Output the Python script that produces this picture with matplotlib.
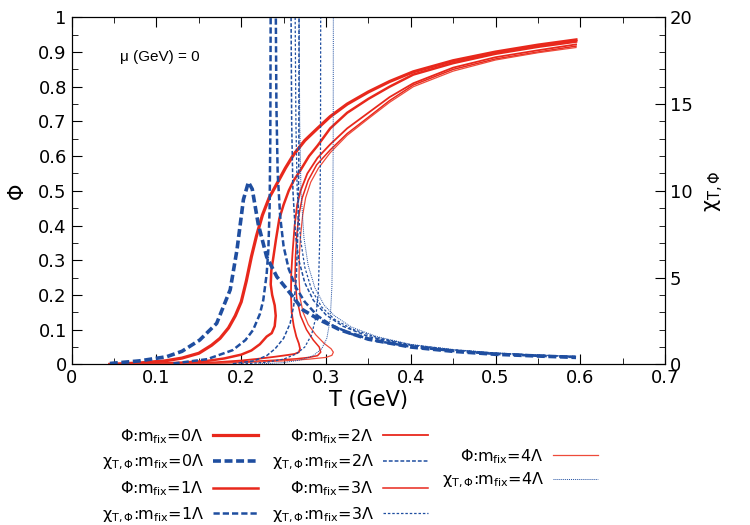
import numpy as np
import matplotlib
matplotlib.use('Agg')
import matplotlib.pyplot as plt
from matplotlib.ticker import MultipleLocator, FuncFormatter

# order parameter Phi(T) for m_fix = 0..4 Lambda
T_phi0 = [0.045, 0.08, 0.11, 0.13, 0.15, 0.165, 0.175, 0.185, 0.193, 0.2, 0.206, 0.212, 0.218, 0.225, 0.233, 0.242, 0.252, 0.262, 0.275, 0.29, 0.305, 0.325, 0.35, 0.375, 0.403, 0.45, 0.5, 0.55, 0.595]
phi0 = [0.0, 0.004, 0.01, 0.018, 0.032, 0.055, 0.075, 0.105, 0.14, 0.18, 0.24, 0.31, 0.37, 0.43, 0.48, 0.52, 0.565, 0.605, 0.645, 0.68, 0.714, 0.75, 0.785, 0.815, 0.843, 0.875, 0.9, 0.92, 0.935]

T_phi1 = [0.045, 0.1, 0.13, 0.16, 0.18, 0.2, 0.212, 0.222, 0.23, 0.236, 0.2395, 0.2407, 0.2395, 0.2365, 0.2348, 0.2355, 0.238, 0.241, 0.245, 0.25, 0.256, 0.262, 0.27, 0.28, 0.29, 0.305, 0.325, 0.35, 0.375, 0.403, 0.45, 0.5, 0.55, 0.595]
phi1 = [0.0, 0.002, 0.005, 0.01, 0.017, 0.028, 0.04, 0.058, 0.08, 0.09, 0.11, 0.14, 0.17, 0.2, 0.23, 0.27, 0.31, 0.36, 0.42, 0.46, 0.5, 0.53, 0.56, 0.6, 0.63, 0.68, 0.725, 0.765, 0.8, 0.835, 0.868, 0.895, 0.915, 0.93]

T_phi2 = [0.045, 0.12, 0.17, 0.2, 0.22, 0.24, 0.255, 0.263, 0.268, 0.2694, 0.268, 0.265, 0.262, 0.2595, 0.2587, 0.259, 0.2605, 0.263, 0.266, 0.27, 0.278, 0.29, 0.305, 0.325, 0.35, 0.375, 0.403, 0.45, 0.5, 0.55, 0.595]
phi2 = [0.0, 0.002, 0.006, 0.011, 0.016, 0.022, 0.027, 0.03, 0.035, 0.045, 0.06, 0.08, 0.11, 0.15, 0.2, 0.26, 0.32, 0.4, 0.46, 0.5, 0.55, 0.595, 0.634, 0.68, 0.725, 0.77, 0.81, 0.855, 0.885, 0.905, 0.922]

T_phi3 = [0.045, 0.15, 0.2, 0.24, 0.265, 0.28, 0.29, 0.2938, 0.292, 0.285, 0.277, 0.27, 0.2655, 0.2635, 0.264, 0.2655, 0.268, 0.272, 0.279, 0.289, 0.305, 0.325, 0.35, 0.375, 0.403, 0.45, 0.5, 0.55, 0.595]
phi3 = [0.0, 0.003, 0.007, 0.012, 0.016, 0.02, 0.025, 0.035, 0.05, 0.07, 0.1, 0.14, 0.19, 0.25, 0.31, 0.37, 0.43, 0.48, 0.53, 0.575, 0.618, 0.665, 0.712, 0.76, 0.805, 0.85, 0.88, 0.9, 0.917]

T_phi4 = [0.045, 0.15, 0.2, 0.25, 0.28, 0.3, 0.307, 0.3087, 0.306, 0.298, 0.288, 0.279, 0.273, 0.2695, 0.2682, 0.2685, 0.27, 0.2725, 0.276, 0.282, 0.291, 0.305, 0.325, 0.35, 0.375, 0.403, 0.45, 0.5, 0.55, 0.595]
phi4 = [0.0, 0.002, 0.005, 0.01, 0.015, 0.02, 0.026, 0.035, 0.045, 0.06, 0.085, 0.115, 0.15, 0.19, 0.25, 0.31, 0.37, 0.43, 0.48, 0.525, 0.565, 0.61, 0.66, 0.708, 0.755, 0.8, 0.845, 0.877, 0.898, 0.913]

# susceptibility chi_T,Phi(T), rising and falling branches
T_chi0 = [0.045, 0.08, 0.112, 0.13, 0.151, 0.171, 0.187, 0.195, 0.2026, 0.2085, 0.213, 0.22, 0.23, 0.242, 0.2577, 0.273, 0.293, 0.317, 0.35, 0.4, 0.45, 0.5, 0.55, 0.595]
chi0 = [0.05, 0.2, 0.44, 0.75, 1.4, 2.36, 4.3, 6.6, 9.5, 10.5, 10.1, 8.1, 6.2, 5.05, 4.1, 3.13, 2.55, 1.98, 1.45, 1.0, 0.75, 0.58, 0.48, 0.4]

T_chi1_up = [0.12, 0.16, 0.19, 0.205, 0.214, 0.222, 0.226, 0.23, 0.232, 0.2335, 0.2343, 0.2348]
chi1_up = [0.05, 0.3, 0.82, 1.4, 1.98, 2.9, 3.7, 5.2, 6.6, 9.0, 13.0, 21.0]
T_chi1_dn = [0.2407, 0.2415, 0.243, 0.246, 0.25, 0.256, 0.265, 0.275, 0.29, 0.305, 0.33, 0.36, 0.4, 0.45, 0.5, 0.55, 0.595]
chi1_dn = [21.0, 15.0, 11.0, 8.5, 6.8, 5.5, 4.4, 3.6, 2.8, 2.3, 1.75, 1.35, 1.02, 0.77, 0.6, 0.49, 0.42]

T_chi2_up = [0.19, 0.215, 0.23, 0.24, 0.25, 0.2577, 0.262, 0.265, 0.267, 0.268, 0.2682]
chi2_up = [0.03, 0.2, 0.5, 0.9, 1.5, 2.36, 3.4, 5.0, 8.0, 12.0, 21.0]
T_chi2_dn = [0.2587, 0.2595, 0.261, 0.264, 0.268, 0.275, 0.285, 0.3, 0.32, 0.35, 0.4, 0.45, 0.5, 0.55, 0.595]
chi2_dn = [21.0, 14.0, 10.0, 7.5, 6.0, 4.7, 3.7, 2.85, 2.2, 1.6, 1.1, 0.82, 0.63, 0.52, 0.44]

T_chi3_up = [0.2, 0.23, 0.25, 0.265, 0.275, 0.283, 0.288, 0.291, 0.2925, 0.2935, 0.2938]
chi3_up = [0.02, 0.12, 0.3, 0.6, 1.0, 1.7, 2.7, 4.2, 7.0, 12.0, 21.0]
T_chi3_dn = [0.2635, 0.2645, 0.266, 0.27, 0.275, 0.283, 0.295, 0.31, 0.33, 0.36, 0.4, 0.45, 0.5, 0.55, 0.595]
chi3_dn = [21.0, 14.0, 10.0, 7.2, 5.6, 4.3, 3.3, 2.6, 2.05, 1.55, 1.13, 0.84, 0.65, 0.53, 0.45]

T_chi4_up = [0.22, 0.25, 0.27, 0.285, 0.295, 0.301, 0.305, 0.307, 0.308, 0.3085, 0.3087]
chi4_up = [0.02, 0.1, 0.25, 0.5, 0.9, 1.5, 2.6, 4.5, 8.0, 13.0, 21.0]
T_chi4_dn = [0.2682, 0.269, 0.2705, 0.274, 0.279, 0.287, 0.298, 0.31, 0.33, 0.36, 0.4, 0.45, 0.5, 0.55, 0.595]
chi4_dn = [21.0, 14.0, 10.0, 7.3, 5.7, 4.4, 3.4, 2.8, 2.15, 1.6, 1.15, 0.86, 0.66, 0.54, 0.46]

red = '#e8281c'
blue = '#1f4ea0'

fig = plt.figure(figsize=(7.5, 5.25), dpi=100)
ax = fig.add_axes([0.0956, 0.306, 0.7911, 0.661])
ax2 = ax.twinx()

p0, = ax.plot(T_phi0, phi0, color=red, lw=2.3)
p1, = ax.plot(T_phi1, phi1, color=red, lw=1.8)
p2, = ax.plot(T_phi2, phi2, color=red, lw=1.3)
p3, = ax.plot(T_phi3, phi3, color=red, lw=1.1)
p4, = ax.plot(T_phi4, phi4, color='#ee4a3a', lw=0.9)

c0, = ax2.plot(T_chi0, chi0, color=blue, lw=2.6, dashes=(2.2, 1.0))
c1, = ax2.plot(T_chi1_up, chi1_up, color=blue, lw=1.8, dashes=(2.5, 1.2))
ax2.plot(T_chi1_dn, chi1_dn, color=blue, lw=1.8, dashes=(2.5, 1.2))
c2, = ax2.plot(T_chi2_up, chi2_up, color=blue, lw=1.1, dashes=(2.5, 1.3))
ax2.plot(T_chi2_dn, chi2_dn, color=blue, lw=1.1, dashes=(2.5, 1.3))
c3, = ax2.plot(T_chi3_up, chi3_up, color=blue, lw=0.9, dashes=(2.0, 1.5))
ax2.plot(T_chi3_dn, chi3_dn, color=blue, lw=0.9, dashes=(2.0, 1.5))
c4, = ax2.plot(T_chi4_up, chi4_up, color=blue, lw=0.7, dashes=(1.0, 1.0))
ax2.plot(T_chi4_dn, chi4_dn, color=blue, lw=0.7, dashes=(1.0, 1.0))

ax.set_xlim(0, 0.7)
ax.set_ylim(0, 1)
ax2.set_ylim(0, 20)
fmt = FuncFormatter(lambda v, pos: '%g' % round(v, 3))
ax.xaxis.set_major_locator(MultipleLocator(0.1))
ax.xaxis.set_minor_locator(MultipleLocator(0.05))
ax.yaxis.set_major_locator(MultipleLocator(0.1))
ax.yaxis.set_minor_locator(MultipleLocator(0.05))
ax.xaxis.set_major_formatter(fmt)
ax.yaxis.set_major_formatter(fmt)
ax2.yaxis.set_major_locator(MultipleLocator(5))
ax2.yaxis.set_minor_locator(MultipleLocator(1))
ax.tick_params(axis='x', which='both', direction='in', top=True, labelsize=13)
ax.tick_params(axis='y', which='both', direction='in', right=False, labelsize=13)
ax.tick_params(which='major', length=7)
ax.tick_params(which='minor', length=4)
ax2.tick_params(which='both', direction='in', labelsize=13)
ax2.tick_params(which='major', length=7)
ax2.tick_params(which='minor', length=4)

ax.set_xlabel('T (GeV)', fontsize=15, labelpad=2)
ax.set_ylabel('Φ', fontsize=15, labelpad=8)
ax2.set_ylabel(r'χ$_{\rm T,\Phi}$', fontsize=15, labelpad=8)
ax.text(0.057, 0.885, 'μ (GeV) = 0', fontsize=11, family='Liberation Sans', va='center')

kw = dict(markerfirst=False, frameon=False, fontsize=11.5, handlelength=2.8,
          borderaxespad=0, borderpad=0, labelspacing=0.45, handletextpad=0.6)
lab_phi = [r'Φ:m$_{\rm fix}$=%dΛ' % m for m in range(5)]
lab_chi = [r'χ$_{\rm T,\Phi}$:m$_{\rm fix}$=%dΛ' % m for m in range(5)]
fig.legend([p0, c0, p1, c1], [lab_phi[0], lab_chi[0], lab_phi[1], lab_chi[1]],
           loc='upper right', bbox_to_anchor=(258 / 750, 1 - 427 / 525), **kw)
fig.legend([p2, c2, p3, c3], [lab_phi[2], lab_chi[2], lab_phi[3], lab_chi[3]],
           loc='upper right', bbox_to_anchor=(428 / 750, 1 - 427 / 525), **kw)
fig.legend([p4, c4], [lab_phi[4], lab_chi[4]],
           loc='upper right', bbox_to_anchor=(598 / 750, 1 - 447 / 525),
           **dict(kw, labelspacing=0.3))

fig.savefig('out.png', dpi=100)
